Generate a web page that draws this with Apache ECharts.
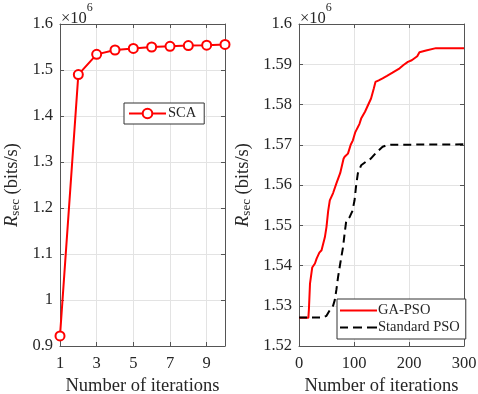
<!DOCTYPE html>
<html><head><meta charset="utf-8">
<script src="https://cdn.jsdelivr.net/npm/echarts@6/dist/echarts.min.js"></script>
<style>html,body{margin:0;padding:0;background:#fff}#c{width:478px;height:394px}</style>
</head><body><div id="c"></div>
<script>
// Left panel: SCA (values in 10^6 bits/s)
const scaIter = [1, 2, 3, 4, 5, 6, 7, 8, 9, 10];
const scaRate = [0.922, 1.490, 1.534, 1.5435, 1.547, 1.550, 1.5515, 1.553, 1.554, 1.5555];
// Right panel: GA-PSO
const gaIter = [0,17,18,20,24,29,32,37,41,47,50,53,56,62,68,75,81,83,89,94,98,102,110,113,120,126,131,136,139,145,152,160,170,183,190,198,205,210,215,219,231,249,300];
const gaRate = [1.527,1.527,1.529,1.5355,1.5395,1.5405,1.5417,1.5432,1.5438,1.547,1.5496,1.5535,1.5562,1.558,1.5604,1.563,1.5665,1.567,1.5678,1.570,1.5711,1.573,1.5752,1.5765,1.5782,1.580,1.5815,1.584,1.5856,1.586,1.5865,1.5871,1.5879,1.589,1.5898,1.5906,1.591,1.5915,1.592,1.593,1.5934,1.594,1.594];
// Right panel: Standard PSO
const psoIter = [0,44,50,56,62,65,68,71,75,77,80,83,86,92,97,101,104,107,113,122,131,140,152,160,168,300];
const psoRate = [1.5271,1.5271,1.5275,1.5289,1.530,1.5314,1.534,1.5371,1.5405,1.5421,1.5445,1.548,1.5512,1.552,1.5535,1.5562,1.560,1.5629,1.5649,1.5658,1.5666,1.568,1.5695,1.5699,1.570,1.5701];
const leftXTicks = {min: 1, max: 10, interval: 2};
const leftYTicks = {min: 0.9, max: 1.6, interval: 0.1};
const rightXTicks = {min: 0, max: 300, interval: 100};
const rightYTicks = {min: 1.52, max: 1.6, interval: 0.01};

const FONT = '"Liberation Serif", "Times New Roman", serif';
const AX = '#555';
const TXT = '#262626';
const zip = (a, b) => a.map((v, i) => [v, b[i]]);

function xAxisMain(gi, t, hideMax) {
  return {
    type: 'value', gridIndex: gi, min: t.min, max: t.max, interval: t.interval,
    name: 'Number of iterations', nameLocation: 'middle', nameGap: 30,
    nameTextStyle: {fontFamily: FONT, fontSize: 18.5, color: TXT},
    axisLine: {show: true, onZero: false, lineStyle: {color: AX, width: 1}},
    axisTick: {show: true, inside: true, length: 4, lineStyle: {color: AX}},
    axisLabel: {fontFamily: FONT, fontSize: 16.5, color: TXT, margin: 9,
      formatter: v => (hideMax && v === t.max) ? '' : String(v)},
    splitLine: {show: true, lineStyle: {color: '#e3e3e3', width: 1}}
  };
}
function xAxisTop(gi, t) {
  return {type: 'value', gridIndex: gi, position: 'top', min: t.min, max: t.max, interval: t.interval,
    axisLine: {show: true, onZero: false, lineStyle: {color: AX, width: 1}},
    axisTick: {show: true, inside: true, length: 4, lineStyle: {color: AX}},
    axisLabel: {show: false}, splitLine: {show: false}};
}
function yAxisMain(gi, t, gap, dec) {
  return {
    type: 'value', gridIndex: gi, min: t.min, max: t.max, interval: t.interval,
    name: '{i|R}{s|sec} {n|(bits/s)}', nameLocation: 'middle', nameGap: gap, nameRotate: 90,
    nameTextStyle: {fontFamily: FONT, fontSize: 18.5, color: TXT,
      rich: {
        i: {fontFamily: FONT, fontStyle: 'italic', fontSize: 18.5, color: TXT},
        s: {fontFamily: FONT, fontSize: 13, color: TXT, verticalAlign: 'bottom', padding: [6, 0, 0, 0]},
        n: {fontFamily: FONT, fontSize: 18.5, color: TXT}
      }},
    axisLine: {show: true, onZero: false, lineStyle: {color: AX, width: 1}},
    axisTick: {show: true, inside: true, length: 4, lineStyle: {color: AX}},
    axisLabel: {fontFamily: FONT, fontSize: 16.5, color: TXT, margin: 7,
      formatter: v => String(+v.toFixed(dec))},
    splitLine: {show: true, lineStyle: {color: '#e3e3e3', width: 1}}
  };
}
function yAxisRight(gi, t) {
  return {type: 'value', gridIndex: gi, position: 'right', min: t.min, max: t.max, interval: t.interval,
    axisLine: {show: true, onZero: false, lineStyle: {color: AX, width: 1}},
    axisTick: {show: true, inside: true, length: 4, lineStyle: {color: AX}},
    axisLabel: {show: false}, splitLine: {show: false}};
}

const chart = echarts.init(document.getElementById('c'), null, {renderer: 'canvas'});
chart.setOption({
  animation: false,
  backgroundColor: '#fff',
  grid: [
    {left: 60, right: 253, top: 24, bottom: 48, containLabel: false, outerBoundsMode: 'none'},
    {left: 299, right: 14, top: 24, bottom: 48, containLabel: false, outerBoundsMode: 'none'}
  ],
  xAxis: [xAxisMain(0, leftXTicks, true), xAxisTop(0, leftXTicks), xAxisMain(1, rightXTicks, false), xAxisTop(1, rightXTicks)],
  yAxis: [yAxisMain(0, leftYTicks, 38, 1), yAxisRight(0, leftYTicks), yAxisMain(1, rightYTicks, 46, 2), yAxisRight(1, rightYTicks)],
  legend: [
    {data: ['SCA'], left: 124, top: 103, orient: 'vertical', padding: [3, 8, 3, 4],
      backgroundColor: '#fff', borderColor: '#333', borderWidth: 1, borderRadius: 0,
      itemWidth: 37, itemHeight: 12, itemGap: 1,
      textStyle: {fontFamily: FONT, fontSize: 14.5, color: TXT, padding: [0, 0, 0, -3]}},
    {data: [
        {name: 'GA-PSO', icon: 'path://M0,0h37v2.2h-37z'},
        {name: 'Standard PSO', icon: 'path://M0,0h8v2.2h-8z M13,0h9v2.2h-9z M27,0h10v2.2h-10z'}
      ],
      left: 337, top: 299, orient: 'vertical', padding: [4, 6, 4, 3],
      backgroundColor: '#fff', borderColor: '#333', borderWidth: 1, borderRadius: 0,
      itemWidth: 37, itemHeight: 2.2, itemGap: 2,
      textStyle: {fontFamily: FONT, fontSize: 14.5, color: TXT, padding: [0, 0, 0, -4]}}
  ],
  graphic: [
    {type: 'text', left: 61, top: 2, style: {text: '{a|×10}{b|6}', fill: TXT,
      rich: {a: {fontFamily: FONT, fontSize: 16.5, fill: TXT, padding: [8, 0, 0, 0]}, b: {fontFamily: FONT, fontSize: 12, fill: TXT, verticalAlign: 'top'}}}},
    {type: 'text', left: 300, top: 2, style: {text: '{a|×10}{b|6}', fill: TXT,
      rich: {a: {fontFamily: FONT, fontSize: 16.5, fill: TXT, padding: [8, 0, 0, 0]}, b: {fontFamily: FONT, fontSize: 12, fill: TXT, verticalAlign: 'top'}}}}
  ],
  series: [
    {name: 'SCA', type: 'line', xAxisIndex: 0, yAxisIndex: 0, data: zip(scaIter, scaRate),
      symbol: 'circle', symbolSize: 9, showSymbol: true,
      lineStyle: {color: '#ff0000', width: 2},
      itemStyle: {color: '#fff', borderColor: '#ff0000', borderWidth: 2}},
    {name: 'GA-PSO', type: 'line', xAxisIndex: 2, yAxisIndex: 2, data: zip(gaIter, gaRate),
      symbol: 'none', lineStyle: {color: '#ff0000', width: 2}, itemStyle: {color: '#ff0000'}},
    {name: 'Standard PSO', type: 'line', xAxisIndex: 2, yAxisIndex: 2, data: zip(psoIter, psoRate),
      symbol: 'none', lineStyle: {color: '#000', width: 2, type: [8, 5]}, itemStyle: {color: '#000'}}
  ]
});
</script></body></html>
